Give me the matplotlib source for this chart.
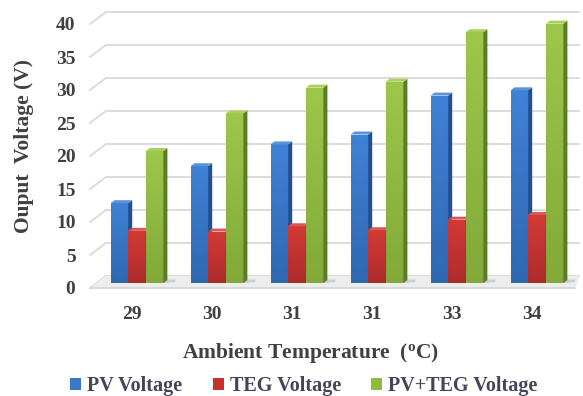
import matplotlib
matplotlib.use("Agg")
import matplotlib.pyplot as plt
from matplotlib.patches import Polygon, Patch
from matplotlib.transforms import ScaledTranslation
from matplotlib.colors import LinearSegmentedColormap
import numpy as np

categories = ["29", "30", "31", "31", "33", "34"]
pv_voltage = [12.1, 17.7, 21.0, 22.5, 28.4, 29.2]
teg_voltage = [7.9, 7.8, 8.6, 8.0, 9.6, 10.3]
pvteg_voltage = [20.0, 25.7, 29.6, 30.5, 38.0, 39.3]
series_names = ["PV Voltage", "TEG Voltage", "PV+TEG Voltage"]
y_ticks = [0, 5, 10, 15, 20, 25, 30, 35, 40]

plt.rcParams['font.family'] = ['Liberation Serif', 'DejaVu Serif']
plt.rcParams['font.weight'] = 'bold'
plt.rcParams['mathtext.fontset'] = 'custom'
plt.rcParams['mathtext.rm'] = 'Liberation Serif:bold'
plt.rcParams['mathtext.it'] = 'Liberation Serif:bold'
plt.rcParams['mathtext.bf'] = 'Liberation Serif:bold'

W, H = 583, 396
fig = plt.figure(figsize=(W / 100, H / 100), dpi=100)
fig.patch.set_facecolor('white')

ax_l, ax_r, ax_t, ax_b = 88, 580, 10, 295
ax = fig.add_axes([ax_l / W, (H - ax_b) / H, (ax_r - ax_l) / W, (ax_b - ax_t) / H])

px_per_v = 6.6
base_px = 283
c0_px = 137
grp_px = 80
ylim = (-(ax_b - base_px) / px_per_v, (base_px - ax_t) / px_per_v)
xlim = ((ax_l - c0_px) / grp_px, (ax_r - c0_px) / grp_px)
ax.set_ylim(*ylim)
ax.set_xlim(*xlim)

text_col = '#404040'

front_x = (90 - c0_px) / grp_px
back_x = (106 - c0_px) / grp_px
front_dy = -(288 - base_px) / px_per_v
back_dy = (base_px - 276) / px_per_v
xr = xlim[1]
xfr = (575 - c0_px) / grp_px

floor = Polygon([(front_x, front_dy), (xfr, front_dy), (xr, back_dy), (back_x, back_dy)],
                closed=True, facecolor='#ededed', edgecolor='none', zorder=1)
ax.add_patch(floor)
ax.plot([front_x, xfr], [front_dy, front_dy], color='#d4d4d4', lw=1.2, zorder=1.5)

for v in y_ticks:
    ax.plot([front_x, back_x], [v + front_dy, v + back_dy], color='#dcdcdc', lw=1.4, zorder=0.5)
    ax.plot([back_x, xr], [v + back_dy, v + back_dy], color='#dcdcdc', lw=1.4, zorder=0.5)

x = np.arange(len(categories))
w = 0.22
ddx = 0.05
ddy = 0.45
series = [pv_voltage, teg_voltage, pvteg_voltage]
front_top = ['#3f82d6', '#d23a37', '#9cc84b']
front_bot = ['#2d63ab', '#a8292a', '#7ea437']
front_cols = ['#3a78c9', '#c9302e', '#8dba3f']
side_cols = ['#23508c', '#8a1e1d', '#5c7c25']
top_cols = ['#5a93dc', '#dd5855', '#a8d05a']
offsets = [-w, 0, w]

for s, (vals, off) in enumerate(zip(series, offsets)):
    xs = x + off
    z = 3 + s
    cmap = LinearSegmentedColormap.from_list('g%d' % s, [front_bot[s], front_top[s]])
    bars = ax.bar(xs, vals, width=w, color=front_cols[s], edgecolor='none', zorder=z)
    for rect, xc, v in zip(bars.patches, xs, vals):
        grad = np.linspace(0, 1, 64).reshape(-1, 1)
        horiz = 1 - 0.25 * np.abs(np.linspace(-1, 1, 16)).reshape(1, -1) ** 2
        img = ax.imshow(grad * 0.85 + 0.15 * horiz, cmap=cmap, vmin=0, vmax=1,
                        extent=(xc - w / 2, xc + w / 2, 0, v), origin='lower',
                        aspect='auto', zorder=z, interpolation='bilinear')
        img.set_clip_path(rect)
        sh = Polygon([(xc + w / 2, 0), (xc + w / 2 + ddx * 3, ddy * 0.3),
                      (xc + w / 2 + ddx * 3, ddy * 1.2), (xc + w / 2, ddy)],
                     closed=True, facecolor='#cfcfcf', edgecolor='none', zorder=2)
        ax.add_patch(sh)
        side = Polygon([(xc + w / 2, 0), (xc + w / 2 + ddx, ddy),
                        (xc + w / 2 + ddx, v + ddy), (xc + w / 2, v)],
                       closed=True, facecolor=side_cols[s], edgecolor='none', zorder=z)
        ax.add_patch(side)
        top = Polygon([(xc - w / 2, v), (xc + w / 2, v),
                       (xc + w / 2 + ddx, v + ddy), (xc - w / 2 + ddx, v + ddy)],
                      closed=True, facecolor=top_cols[s], edgecolor='none', zorder=z)
        ax.add_patch(top)

ax.set_xlim(*xlim)
ax.set_ylim(*ylim)

for sp in ax.spines.values():
    sp.set_visible(False)

ax.set_xticks(x - 0.06)
ax.set_xticklabels(categories, fontsize=14, fontweight='bold', color=text_col)
ax.set_yticks(y_ticks)
ax.set_yticklabels([str(t) for t in y_ticks], fontsize=14, fontweight='bold', color=text_col)
ax.tick_params(axis='both', length=0)
ax.tick_params(axis='y', pad=9)
ax.tick_params(axis='x', pad=8)
for lab in ax.get_yticklabels():
    lab.set_transform(lab.get_transform() + ScaledTranslation(0, -0.05, fig.dpi_scale_trans))

fig.text(24 / W, 1 - 146 / H, "Ouput  Voltage (V)", rotation=90, ha='center', va='center',
         fontsize=15.5, fontweight='bold', color=text_col)
fig.text(311 / W, 1 - 353 / H, r"Ambient Temperature  ($\mathregular{^{o}}$C)", ha='center', va='center',
         fontsize=15.5, fontweight='bold', color=text_col)

handles = [Patch(facecolor=c, edgecolor='none') for c in front_cols]
fig.legend(handles, series_names, loc='center', bbox_to_anchor=(304 / W, 1 - 386 / H), ncol=3,
           frameon=False, prop={'family': 'Liberation Serif', 'weight': 'bold', 'size': 14.5},
           labelcolor='#45455a', handlelength=0.55, handleheight=0.55, handletextpad=0.3,
           columnspacing=1.5)

fig.savefig("out.png", dpi=100, facecolor='white')
